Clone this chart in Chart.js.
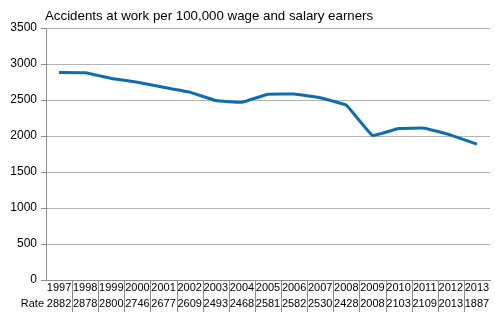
<!DOCTYPE html>
<html>
<head>
<meta charset="utf-8">
<script src="https://cdn.jsdelivr.net/npm/chart.js@4.4.1/dist/chart.umd.min.js"></script>
<style>
  html, body { margin: 0; padding: 0; background: #fff; }
  #wrap { width: 495px; height: 312px; position: relative; }
</style>
</head>
<body>
<div id="wrap"><canvas id="chart"></canvas></div>
<script>
// data
const years = ['1997', '1998', '1999', '2000', '2001', '2002', '2003', '2004', '2005',
  '2006', '2007', '2008', '2009', '2010', '2011', '2012', '2013'];
const rate = [2882, 2878, 2800, 2746, 2677, 2609, 2493, 2468, 2581,
  2582, 2530, 2428, 2008, 2103, 2109, 2013, 1887];
const rowLabel = 'Rate';
const chartTitle = 'Accidents at work per 100,000 wage and salary earners';

const FONT = '"Liberation Sans", Arial, sans-serif';

// title + the little data table under the x axis
const tablePlugin = {
  id: 'tablePlugin',
  afterDraw(chart) {
    const ctx = chart.ctx;
    const x = chart.scales.x;
    const area = chart.chartArea;
    const step = x.getPixelForValue(1) - x.getPixelForValue(0);

    ctx.save();
    ctx.fillStyle = '#000';
    ctx.font = '13.3px ' + FONT;
    ctx.textAlign = 'left';
    ctx.textBaseline = 'middle';
    ctx.fillText(chartTitle, area.left - 1, 16);

    // separators
    ctx.strokeStyle = '#8c8c8c';
    ctx.lineWidth = 1;
    for (let i = 1; i < years.length; i++) {
      const px = Math.round(x.getPixelForValue(i) - step / 2) + 0.5;
      ctx.beginPath();
      ctx.moveTo(px, area.bottom);
      ctx.lineTo(px, 312);
      ctx.stroke();
    }

    ctx.font = '11px ' + FONT;
    ctx.textAlign = 'center';
    years.forEach((y, i) => {
      const px = x.getPixelForValue(i);
      ctx.fillText(y, px, area.bottom + 8);
      ctx.fillText(String(rate[i]), px, area.bottom + 24);
    });
    ctx.textAlign = 'right';
    ctx.fillText(rowLabel, area.left - 2, area.bottom + 24);
    ctx.restore();
  }
};

new Chart(document.getElementById('chart'), {
  type: 'line',
  data: {
    labels: years,
    datasets: [{
      data: rate,
      borderColor: '#0b6fae',
      borderWidth: 3,
      pointRadius: 0,
      tension: 0.08,
      fill: false
    }]
  },
  options: {
    responsive: true,
    maintainAspectRatio: false,
    animation: false,
    layout: { padding: { top: 28, right: 5, left: 0, bottom: 0 } },
    plugins: { legend: { display: false }, tooltip: { enabled: false } },
    scales: {
      x: {
        offset: true,
        grid: { display: false, drawTicks: false },
        border: { color: '#8c8c8c' },
        ticks: { display: false },
        afterFit(scale) { scale.height = 32; }
      },
      y: {
        min: 0,
        max: 3500,
        ticks: {
          stepSize: 500,
          color: '#000',
          font: { family: FONT, size: 12 },
          padding: 4,
          callback: v => String(v)
        },
        grid: { color: '#b4b4b4', tickLength: 5, tickColor: '#8c8c8c' },
        border: { color: '#8c8c8c' },
        afterFit(scale) { scale.width = 46; }
      }
    }
  },
  plugins: [tablePlugin]
});
</script>
</body>
</html>
